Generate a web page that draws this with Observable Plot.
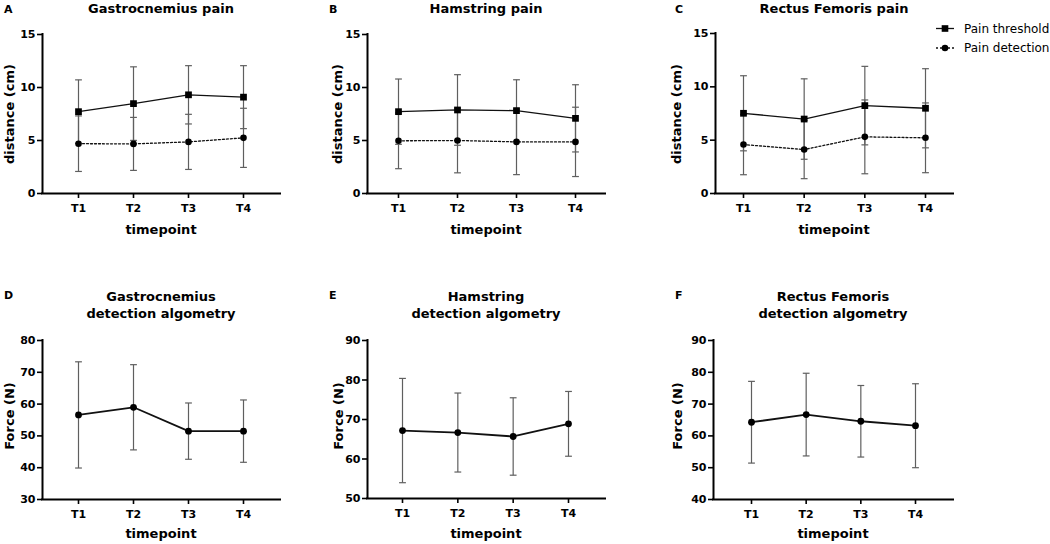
<!DOCTYPE html>
<html><head><meta charset="utf-8">
<script src="https://cdn.jsdelivr.net/npm/d3@7"></script>
<script src="https://cdn.jsdelivr.net/npm/@observablehq/plot@0.6"></script>
<style>
html,body{margin:0;padding:0;background:#fff;}
body{width:1050px;height:544px;position:relative;overflow:hidden;font-family:"DejaVu Sans",sans-serif;color:#000;}
.abs{position:absolute;white-space:nowrap;}
.letter{font-size:11px;font-weight:bold;line-height:13px;}
.title{font-size:13px;font-weight:bold;line-height:16.6px;text-align:center;transform:translateX(-50%);}
.xlab{font-size:13px;font-weight:bold;line-height:15px;transform:translateX(-50%);}
.ylab{font-size:13px;font-weight:bold;line-height:15px;transform:translate(-50%,-50%) rotate(-90deg);}
.legend{font-size:12px;line-height:14px;}
</style>
</head><body>
<script>
// ---------- data ----------
const timepoints = ["T1", "T2", "T3", "T4"];

const gastroPainThresholdMean = [7.72, 8.48, 9.31, 9.09];
const gastroPainThresholdSD   = [3.00, 3.47, 2.75, 2.97];
const gastroPainDetectionMean = [4.70, 4.68, 4.87, 5.25];
const gastroPainDetectionSD   = [2.62, 2.50, 2.60, 2.79];

const hamPainThresholdMean = [7.72, 7.88, 7.82, 7.09];
const hamPainThresholdSD   = [3.08, 3.33, 2.91, 3.17];
const hamPainDetectionMean = [4.97, 5.00, 4.87, 4.87];
const hamPainDetectionSD   = [2.63, 3.05, 3.09, 3.27];

const rfPainThresholdMean = [7.52, 6.98, 8.24, 7.99];
const rfPainThresholdSD   = [3.52, 3.77, 3.68, 3.71];
const rfPainDetectionMean = [4.59, 4.12, 5.31, 5.22];
const rfPainDetectionSD   = [2.83, 2.73, 3.46, 3.27];

const gastroAlgoMean = [56.6, 59.0, 51.5, 51.5];
const gastroAlgoSD   = [16.7, 13.4, 8.85, 9.8];
const hamAlgoMean = [67.2, 66.7, 65.7, 68.9];
const hamAlgoSD   = [13.2, 10.0, 9.8, 8.2];
const rfAlgoMean = [64.3, 66.7, 64.6, 63.2];
const rfAlgoSD   = [12.85, 13.0, 11.25, 13.2];

const distanceTicks = [0, 5, 10, 15];
const gastroForceTicks = [30, 40, 50, 60, 70, 80];
const hamForceTicks = [50, 60, 70, 80, 90];
const rfForceTicks = [40, 50, 60, 70, 80, 90];

const seriesNames = ["Pain threshold", "Pain detection"];
const panelLetters = ["A", "B", "C", "D", "E", "F"];
const panelTitles = [
  ["Gastrocnemius pain"], ["Hamstring pain"], ["Rectus Femoris pain"],
  ["Gastrocnemius", "detection algometry"], ["Hamstring", "detection algometry"], ["Rectus Femoris", "detection algometry"]
];
const xTitle = "timepoint";
const yTitles = ["distance (cm)", "distance (cm)", "distance (cm)", "Force (N)", "Force (N)", "Force (N)"];

// ---------- drawing ----------
const errColor = "#5f5f5f";
const capSymbol = {
  draw(ctx, size) { const w = Math.sqrt(size / Math.PI); ctx.moveTo(-w, 0); ctx.lineTo(w, 0); }
};

function addDiv(cls, text, left, top) {
  const d = document.createElement("div");
  d.className = "abs " + cls;
  d.innerHTML = Array.isArray(text) ? text.join("<br>") : text;
  d.style.left = left + "px";
  d.style.top = top + "px";
  document.body.appendChild(d);
  return d;
}

function panel(cfg) {
  const {series, yDomain, yTicks, axisL, axisR, t1, t4, top, yTop, yBottom, lineWidth} = cfg;
  const step = (t4 - t1) / 3;
  const xDomain = [1 - (t1 - axisL) / step, 4 + (axisR - t4) / step];
  const mL = 30, mR = 8, mB = 28;
  const mT = yTop - top;
  const height = yBottom - top + mB;
  const width = mL + (axisR - axisL) + mR;
  const marks = [];
  const tables = series.map(s => timepoints.map((t, i) => ({
    i: i + 1, t, mean: s.mean[i], lo: s.mean[i] - s.sd[i], hi: s.mean[i] + s.sd[i]
  })));
  tables.forEach(rows => {
    marks.push(Plot.link(rows, {x1: "i", x2: "i", y1: "lo", y2: "hi", stroke: errColor, strokeWidth: 1.2}));
    marks.push(Plot.dot(rows, {x: "i", y: "lo", symbol: capSymbol, r: 3.4, fill: "none", stroke: errColor, strokeWidth: 1.2}));
    marks.push(Plot.dot(rows, {x: "i", y: "hi", symbol: capSymbol, r: 3.4, fill: "none", stroke: errColor, strokeWidth: 1.2}));
  });
  tables.forEach((rows, k) => {
    marks.push(Plot.line(rows, {x: "i", y: "mean", stroke: "#111", strokeWidth: lineWidth,
      strokeDasharray: series[k].dash || null}));
  });
  tables.forEach((rows, k) => {
    marks.push(Plot.dot(rows, {x: "i", y: "mean", symbol: series[k].symbol, r: series[k].r, fill: "#000", stroke: "none"}));
  });
  marks.push(Plot.axisY({ticks: yTicks, tickSize: 5, tickPadding: 2, label: null, strokeWidth: 1.6, fontSize: 11, fontWeight: "bold"}));
  marks.push(Plot.axisX({ticks: [1, 2, 3, 4], tickFormat: d => timepoints[d - 1], tickSize: 5, tickPadding: 6, label: null, strokeWidth: 1.6, fontSize: 11, fontWeight: "bold"}));
  marks.push(Plot.ruleY([yDomain[0]], {stroke: "#000", strokeWidth: 2, strokeLinecap: "square"}));
  marks.push(Plot.ruleX([xDomain[0]], {stroke: "#000", strokeWidth: 2, strokeLinecap: "square"}));
  const svg = Plot.plot({
    width, height, marginLeft: mL, marginRight: mR, marginTop: mT, marginBottom: mB,
    x: {type: "linear", domain: xDomain},
    y: {type: "linear", domain: yDomain},
    style: {fontFamily: "'DejaVu Sans', sans-serif", fontSize: "11px", fontWeight: "bold", overflow: "visible", background: "transparent"},
    marks
  });
  svg.style.position = "absolute";
  svg.style.left = (axisL - mL) + "px";
  svg.style.top = top + "px";
  document.body.appendChild(svg);
}

const topSeries = (tm, ts, dm, ds) => [
  {mean: tm, sd: ts, symbol: "square", r: 3.8},
  {mean: dm, sd: ds, symbol: "circle", r: 3.3, dash: "2,2"}
];

const cols = [
  {axisL: 42, axisR: 280, t1: 78, t4: 243},
  {axisL: 367, axisR: 605, t1: 398, t4: 575},
  {axisL: 715, axisR: 953, t1: 743, t4: 925}
];
const colsBottom = [
  {axisL: 42, axisR: 280, t1: 78, t4: 243},
  {axisL: 367, axisR: 605, t1: 402, t4: 568},
  {axisL: 713, axisR: 953, t1: 751, t4: 915}
];

panel({...cols[0], top: 0, yTop: 34, yBottom: 193, yDomain: [0, 15], yTicks: distanceTicks, lineWidth: 1.3,
  series: topSeries(gastroPainThresholdMean, gastroPainThresholdSD, gastroPainDetectionMean, gastroPainDetectionSD)});
panel({...cols[1], top: 0, yTop: 34, yBottom: 193, yDomain: [0, 15], yTicks: distanceTicks, lineWidth: 1.3,
  series: topSeries(hamPainThresholdMean, hamPainThresholdSD, hamPainDetectionMean, hamPainDetectionSD)});
panel({...cols[2], top: 0, yTop: 33, yBottom: 193, yDomain: [0, 15], yTicks: distanceTicks, lineWidth: 1.3,
  series: topSeries(rfPainThresholdMean, rfPainThresholdSD, rfPainDetectionMean, rfPainDetectionSD)});
panel({...colsBottom[0], top: 300, yTop: 340, yBottom: 499, yDomain: [30, 80], yTicks: gastroForceTicks, lineWidth: 1.8,
  series: [{mean: gastroAlgoMean, sd: gastroAlgoSD, symbol: "circle", r: 3.4}]});
panel({...colsBottom[1], top: 300, yTop: 340, yBottom: 498, yDomain: [50, 90], yTicks: hamForceTicks, lineWidth: 1.8,
  series: [{mean: hamAlgoMean, sd: hamAlgoSD, symbol: "circle", r: 3.4}]});
panel({...colsBottom[2], top: 300, yTop: 340, yBottom: 499, yDomain: [40, 90], yTicks: rfForceTicks, lineWidth: 1.8,
  series: [{mean: rfAlgoMean, sd: rfAlgoSD, symbol: "circle", r: 3.4}]});

// ---------- text ----------
const letterPos = [[4, 3], [329, 3], [675, 3], [4, 289], [329, 289], [675, 289]];
panelLetters.forEach((l, k) => addDiv("letter", l, letterPos[k][0], letterPos[k][1]));

const allCols = [...cols, ...colsBottom];
panelTitles.forEach((t, k) => {
  const c = allCols[k];
  addDiv("title", t, (c.axisL + c.axisR) / 2, k < 3 ? 1 : 289);
  addDiv("xlab", xTitle, (c.axisL + c.axisR) / 2, k < 3 ? 222 : 526);
});
const yLabX = [9, 337, 676, 9, 338, 677];
yTitles.forEach((t, k) => addDiv("ylab", t, yLabX[k], k < 3 ? 113.5 : 416));

// legend
const leg = d3.select("body").append("svg")
  .attr("width", 24).attr("height", 40)
  .style("position", "absolute").style("left", "934px").style("top", "18px");
const legRows = [{y: 10.5, symbol: d3.symbolSquare, size: 44, dash: null},
                 {y: 30, symbol: d3.symbolCircle, size: 34, dash: "2,2"}];
legRows.forEach(r => {
  leg.append("line").attr("x1", 2).attr("x2", 20).attr("y1", r.y).attr("y2", r.y)
    .attr("stroke", "#111").attr("stroke-width", 1.3).attr("stroke-dasharray", r.dash);
  leg.append("path").attr("d", d3.symbol(r.symbol, r.size)()).attr("transform", `translate(11,${r.y})`).attr("fill", "#000");
});
seriesNames.forEach((n, k) => addDiv("legend", n, 964, k === 0 ? 22 : 41));
</script>
</body></html>
